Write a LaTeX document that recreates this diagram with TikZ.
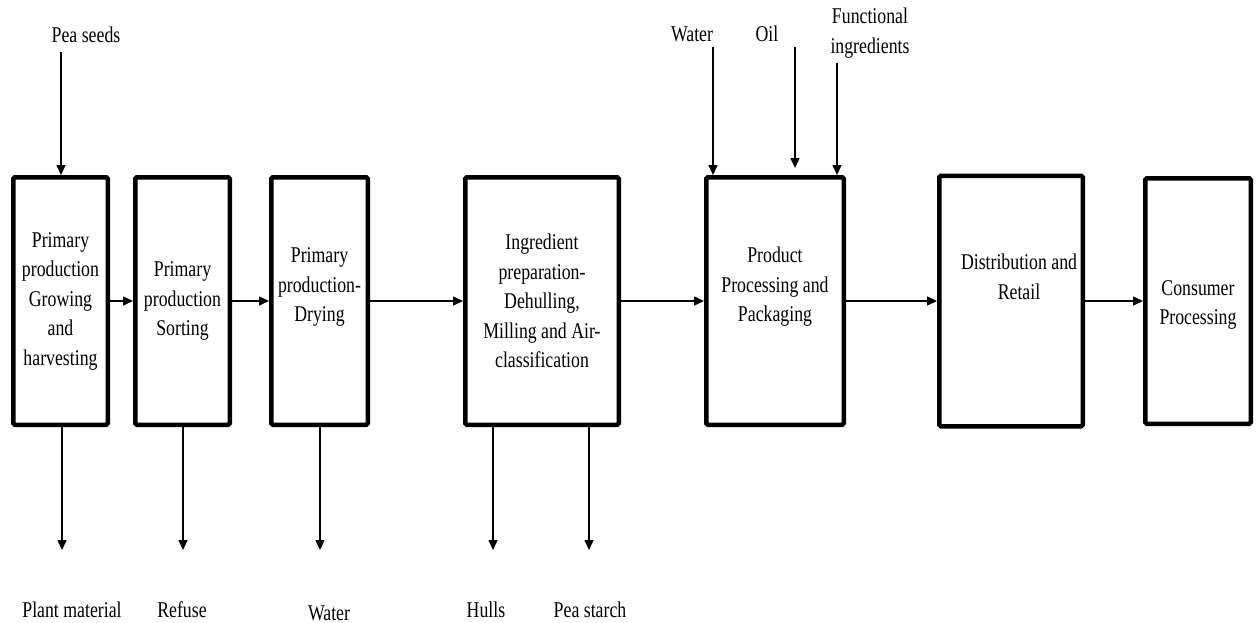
\documentclass[tikz,border=0pt]{standalone}
\usepackage{fontspec}
\setmainfont{Liberation Serif}[FakeStretch=0.79]
\usetikzlibrary{arrows.meta,positioning}

\begin{document}
\begin{tikzpicture}[x=1pt,y=-1pt,>={Triangle[length=10pt,width=9pt]},
  font=\fontsize{22.5}{29.5}\selectfont,
  stage/.style={draw,line width=4.5pt,rounded corners=1.5pt,minimum height=247.5pt,inner sep=0pt},
  txt/.style={align=center,inner sep=0pt},
  flow/.style={->,line width=1.5pt}]
  \useasboundingbox (0,0) rectangle (1258,623);

  % stages of the chain
  \node[stage,minimum width=94.5pt]  (grow)   at (60.5,301) {};
  \node[stage,minimum width=94.5pt]  (sort)   [right=23pt of grow] {};
  \node[stage,minimum width=96.5pt]  (dry)    [right=37pt of sort] {};
  \node[stage,minimum width=153.5pt] (ingr)   [right=93pt of dry] {};
  \node[stage,minimum width=137.5pt] (proc)   [right=83pt of ingr] {};
  \node[stage,minimum width=143.5pt,minimum height=250.5pt] (retail) [right=91pt of proc] {};
  \node[stage,minimum width=105.5pt,minimum height=245.5pt] (cons)   [right=58pt of retail] {};

  \node[txt] (growt) at (grow) {Primary\\production\\Growing\\and\\harvesting};
  \node[txt] (sortt) at (sort) {Primary\\production\\Sorting};
  \node[txt,yshift=14pt] (dryt) at (dry) {Primary\\production-\\Drying};
  \node[txt] (ingrt) at (ingr) {Ingredient\\preparation-\\Dehulling,\\Milling and Air-\\classification};
  \node[txt,yshift=14pt] (proct) at (proc) {Product\\Processing and\\Packaging};
  \node[txt,xshift=8pt,yshift=24pt] (retailt) at (retail) {Distribution and\\Retail};
  \node[txt,yshift=-4pt] (const) at (cons) {Consumer\\Processing};

  \draw[flow] (grow.east) -- (sort.west);
  \draw[flow] (sort.east) -- (dry.west);
  \draw[flow] (dry.east) -- (ingr.west);
  \draw[flow] (ingr.east) -- (proc.west);
  \draw[flow] (proc.east) -- (retail.west);
  \draw[flow] (retail.east) -- (cons.west);

  % inputs
  \node[txt] (seeds) at (86,35) {Pea seeds};
  \node[txt] (water) at (692,34) {Water};
  \node[txt] (oil) at (767,34) {Oil};
  \node[txt] (func) at (870,33) {Functional\\ingredients};
  \coordinate (seedsin) at (61,52);
  \coordinate (waterin) at (713,47);
  \coordinate (oilin) at (795,47);
  \coordinate (funcin) at (837,63);
  \draw[flow] (seedsin) -- (seedsin |- grow.north);
  \draw[flow] (waterin) -- (waterin |- proc.north);
  \draw[flow,shorten >=7pt] (oilin) -- (oilin |- proc.north);
  \draw[flow] (funcin) -- (funcin |- proc.north);

  % outputs
  \node[txt] (plant) at (72,610) {Plant material};
  \node[txt] (refuse) at (182,610) {Refuse};
  \node[txt] (waterout) at (329,613) {Water};
  \node[txt] (hulls) at (486,610) {Hulls};
  \node[txt] (starch) at (590,610) {Pea starch};
  \coordinate (plantout) at (62,550);
  \coordinate (refuseout) at (183,550);
  \coordinate (waterend) at (320,550);
  \coordinate (hullsout) at (493,550);
  \coordinate (starchout) at (589,550);
  \draw[flow] (grow.south -| plantout) -- (plantout);
  \draw[flow] (sort.south -| refuseout) -- (refuseout);
  \draw[flow] (dry.south -| waterend) -- (waterend);
  \draw[flow] (ingr.south -| hullsout) -- (hullsout);
  \draw[flow] (ingr.south -| starchout) -- (starchout);
\end{tikzpicture}
\end{document}
